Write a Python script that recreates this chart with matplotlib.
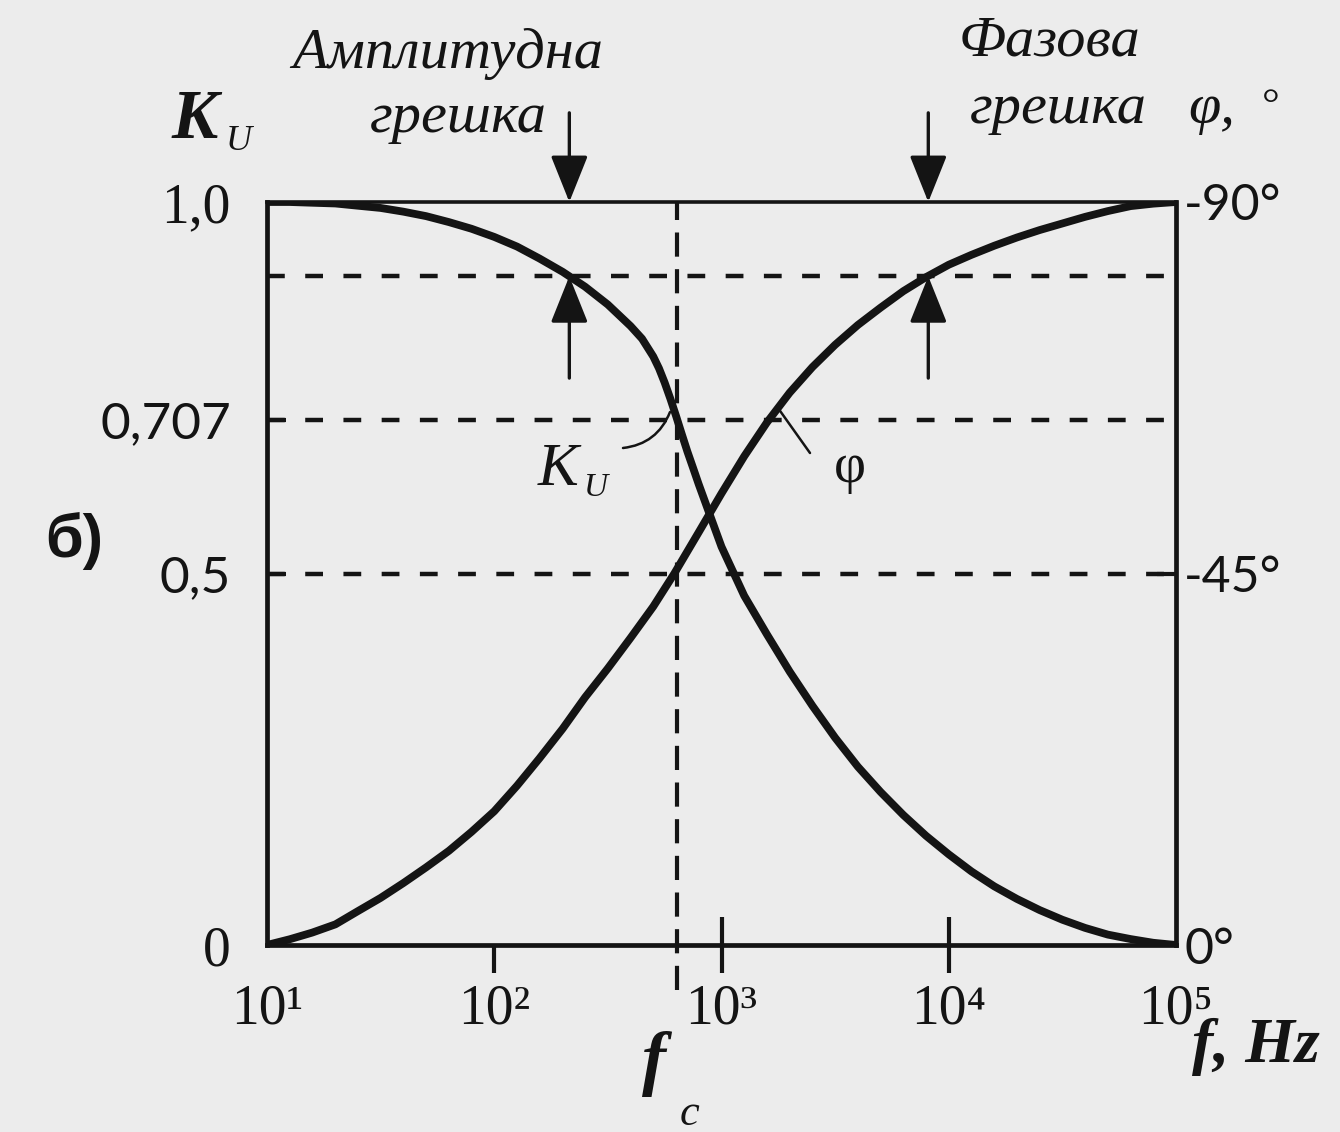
import matplotlib
matplotlib.use("Agg")
import matplotlib.pyplot as plt
from matplotlib.ticker import FixedLocator, NullFormatter

# Amplitude response K_U of the circuit versus frequency, Hz
freq_k = [10, 12.6, 15.8, 20, 25.1, 31.6, 39.8, 50.1, 63.1, 79.4, 100, 126,
          158, 200, 251, 316, 398, 447, 501, 531, 562, 596, 631, 668, 708,
          750, 794, 891, 1000, 1259, 1585, 1995, 2512, 3162, 3981, 5012,
          6310, 7943, 10000, 12589, 15849, 19953, 25119, 31623, 39811, 50119,
          63096, 79433, 100000]
k_u = [1.000, 1.000, 0.999, 0.998, 0.995, 0.992, 0.987, 0.981, 0.973, 0.964,
       0.953, 0.940, 0.924, 0.906, 0.886, 0.862, 0.833, 0.816, 0.792, 0.776,
       0.757, 0.735, 0.712, 0.688, 0.664, 0.642, 0.620, 0.578, 0.536, 0.470,
       0.418, 0.368, 0.322, 0.279, 0.240, 0.206, 0.175, 0.147, 0.122, 0.099,
       0.079, 0.062, 0.047, 0.034, 0.023, 0.014, 0.008, 0.003, 0.000]

# Phase response φ (degrees) versus frequency, Hz
freq_phi = [10, 12.6, 15.8, 20, 25.1, 31.6, 39.8, 50.1, 63.1, 79.4, 100, 126,
            158, 200, 251, 316, 398, 501, 620, 794, 1000, 1259, 1585, 1995,
            2512, 3162, 3981, 5012, 6310, 7943, 10000, 12589, 15849, 19953,
            25119, 31623, 39811, 50119, 63096, 79433, 100000]
phi_deg = [0.0, -0.7, -1.5, -2.5, -4.1, -5.7, -7.5, -9.4, -11.4, -13.7,
           -16.2, -19.3, -22.6, -26.2, -30.0, -33.5, -37.2, -41.0, -45.0,
           -50.0, -54.7, -59.2, -63.3, -66.9, -70.0, -72.7, -75.1, -77.2,
           -79.2, -80.9, -82.4, -83.6, -84.7, -85.7, -86.6, -87.4, -88.2,
           -88.9, -89.5, -89.8, -90.0]

# Reference levels and marked frequencies
f_c = 640
k_levels = [0.9, 0.707, 0.5]
error_level = 0.9
f_amp_err = 214
f_phase_err = 8128

# Axis ticks
f_ticks = [1e1, 1e2, 1e3, 1e4, 1e5]
f_tick_labels = ["10¹", "10²", "10³", "10⁴", "10⁵"]
k_ticks = [0, 0.5, 0.707, 1.0]
k_tick_labels = ["0", "0,5", "0,707", "1,0"]
phi_ticks = [0, -45, -90]
phi_tick_labels = ["0°", "-45°", "-90°"]

SERIF = ["Liberation Serif", "DejaVu Serif"]
SANS = ["Lato", "DejaVu Sans"]
plt.rcParams.update({"font.family": SERIF})

INK = "#141414"
PAPER = "#ececec"
W, H = 1340, 1132


def fx(x):
    return x / W


def fy(y):
    return 1 - y / H


fig = plt.figure(figsize=(W / 100, H / 100), dpi=100, facecolor=PAPER)
ax = fig.add_axes([267 / W, 1 - 945 / H, 909 / W, 743 / H])
ax.set_facecolor(PAPER)
ax.set_xscale("log")
ax.set_xlim(f_ticks[0], f_ticks[-1])
ax.set_ylim(0, 1)

axr = ax.twinx()
axr.set_ylim(0, -90)

for s in ax.spines.values():
    s.set_linewidth(3.4)
    s.set_color(INK)
ax.spines["top"].set_linewidth(2.6)
for s in axr.spines.values():
    s.set_visible(False)

# dashed reference levels across the full width
for lvl in k_levels:
    ax.axhline(lvl, color=INK, lw=3.2, ls=(0, (4.0, 4.6)), zorder=2)

# cut-off frequency marker, running below the frequency axis
ax.plot([f_c, f_c], [-0.06, 1.0], color=INK, lw=3.0, ls=(0, (5.8, 3.0)),
        clip_on=False, zorder=2)

# the two response curves
ax.plot(freq_k, k_u, color=INK, lw=5.6, zorder=4, solid_capstyle="butt",
        solid_joinstyle="round")
axr.plot(freq_phi, phi_deg, color=INK, lw=5.6, zorder=4,
         solid_capstyle="butt", solid_joinstyle="round")

# frequency axis
ax.set_xticks(f_ticks, f_tick_labels)
ax.tick_params(axis="x", which="major", direction="out", length=20, width=3,
               pad=8, labelsize=40, colors=INK)
ax.xaxis.remove_overlapping_locs = False
ax.xaxis.set_minor_locator(FixedLocator(f_ticks[2:4]))
ax.xaxis.set_minor_formatter(NullFormatter())
ax.tick_params(axis="x", which="minor", direction="in", length=20, width=3,
               colors=INK)
xt = ax.xaxis.get_major_ticks()
for t in (xt[0], xt[-1]):
    t.tick1line.set_visible(False)

# K_U axis
ax.set_yticks(k_ticks, k_tick_labels)
ax.tick_params(axis="y", direction="in", length=14, width=3, pad=26,
               labelsize=40, colors=INK)
yt = ax.yaxis.get_major_ticks()
for t in (yt[0], yt[-1]):
    t.tick1line.set_visible(False)
for t, lbl in zip(yt, k_tick_labels):
    if lbl in ("0,5", "0,707"):
        t.label1.set_fontfamily(SANS)
        t.label1.set_fontsize(37)

# phase axis
axr.set_yticks(phi_ticks, phi_tick_labels)
axr.tick_params(axis="y", direction="in", length=14, width=3, pad=6,
                labelsize=36, colors=INK)
rt = axr.yaxis.get_major_ticks()
for t in (rt[0], rt[-1]):
    t.tick2line.set_visible(False)
for t in rt:
    t.label2.set_fontfamily(SANS)

# error arrows
head = dict(arrowstyle="-|>,head_length=1.45,head_width=0.58",
            mutation_scale=20, lw=2.4, color=INK, shrinkA=0, shrinkB=0)
for f in (f_amp_err, f_phase_err):
    ax.annotate("", xy=(f, 1.0), xytext=(f, 1.12), xycoords="data",
                arrowprops=head, annotation_clip=False)
    ax.annotate("", xy=(f, error_level), xytext=(f, 0.763), xycoords="data",
                arrowprops=head, annotation_clip=False)

# headings above the plot
fig.text(fx(448), fy(68), "Амплитудна", fontsize=42, style="italic",
         ha="center", va="baseline", color=INK)
fig.text(fx(458), fy(132), "грешка", fontsize=42, style="italic",
         ha="center", va="baseline", color=INK)
fig.text(fx(1049), fy(55), "Фазова", fontsize=42, style="italic",
         ha="center", va="baseline", color=INK)
fig.text(fx(1058), fy(123), "грешка", fontsize=42, style="italic",
         ha="center", va="baseline", color=INK)

# axis titles
fig.text(fx(172), fy(138), "K", fontsize=50, style="italic",
         weight="bold", ha="left", va="baseline", color=INK)
fig.text(fx(226), fy(150), "U", fontsize=26, style="italic",
         ha="left", va="baseline", color=INK)
fig.text(fx(1188), fy(123), "φ,", fontsize=42, style="italic",
         ha="left", va="baseline", color=INK)
fig.text(fx(1262), fy(118), "°", fontsize=32, ha="left",
         va="baseline", color=INK)
fig.text(fx(642), fy(1082), "f", fontsize=52, style="italic",
         weight="bold", ha="left", va="baseline", color=INK)
fig.text(fx(680), fy(1125), "c", fontsize=32, style="italic",
         ha="left", va="baseline", color=INK)
fig.text(fx(1192), fy(1062), "f, Hz", fontsize=46, style="italic",
         weight="bold", ha="left", va="baseline", color=INK)
fig.text(fx(45), fy(557), "б)", fontsize=44, weight="bold",
         family=["Liberation Sans", "DejaVu Sans"],
         ha="left", va="baseline", color=INK)

# curve labels with leader lines
fig.text(fx(538), fy(485), "K", fontsize=44, style="italic",
         ha="left", va="baseline", color=INK)
fig.text(fx(584), fy(496), "U", fontsize=24, style="italic",
         ha="left", va="baseline", color=INK)
fig.text(fx(850), fy(482), "φ", fontsize=40, ha="center",
         va="baseline", color=INK)
ax.annotate("", xy=(670, H - 412), xycoords="figure pixels",
            xytext=(623, H - 448), textcoords="figure pixels",
            arrowprops=dict(arrowstyle="-", lw=1.8, color=INK,
                            connectionstyle="arc3,rad=0.3",
                            shrinkA=0, shrinkB=0))
ax.annotate("", xy=(778, H - 408), xycoords="figure pixels",
            xytext=(810, H - 453), textcoords="figure pixels",
            arrowprops=dict(arrowstyle="-", lw=1.8, color=INK,
                            shrinkA=0, shrinkB=0))

fig.savefig("out.png", dpi=100, facecolor=PAPER)
